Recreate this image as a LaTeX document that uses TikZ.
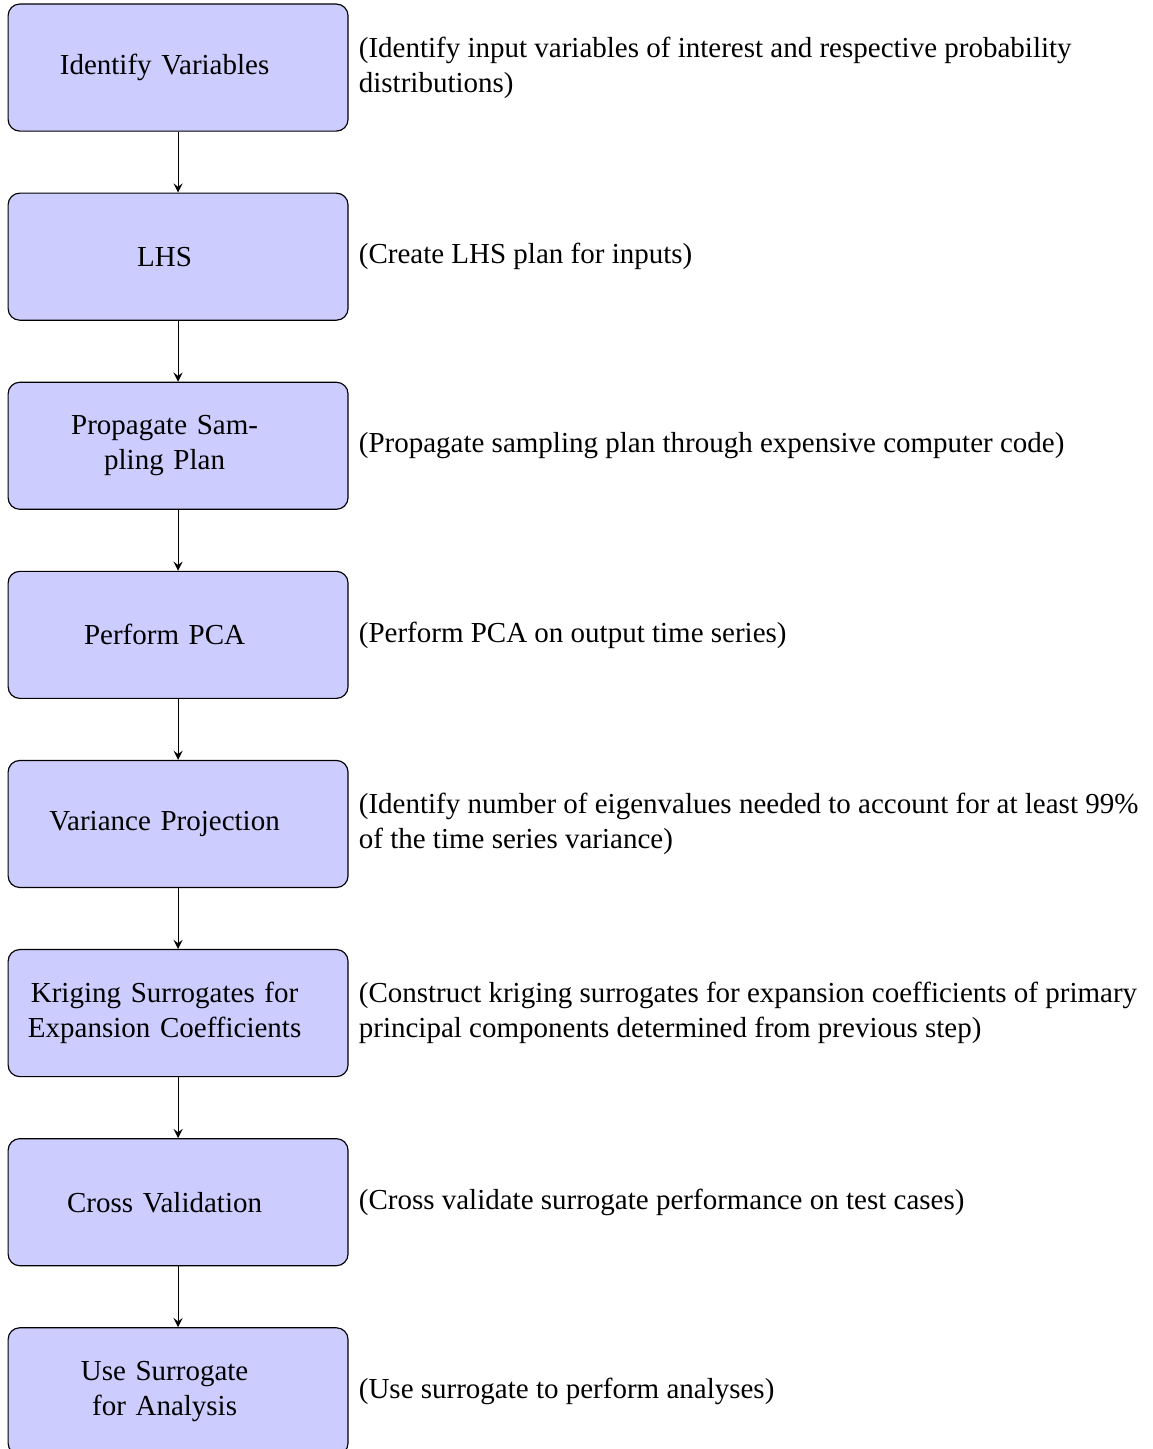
\documentclass[tikz,border=0pt]{standalone}
\usepackage{fontspec}
\setmainfont{Liberation Serif}
\usetikzlibrary{positioning}
\begin{document}
\begin{tikzpicture}[>=stealth, node distance=21.0pt,
	block/.style={rectangle, draw, fill=blue!20, rounded corners, text width=109.3pt, align=center, execute at begin node={\advance\rightskip by 9.3pt}, minimum width=117.2pt, minimum height=43.8pt},
	desc/.style={text width=270pt, align=flush left}]
			\useasboundingbox (-61.4pt,-476.3pt) rectangle (335.8pt,23.3pt);
		
			\node[block] (ident) {Identify Variables};
			\node[block, below=of ident] (lhs) {LHS};
			\node[block, below=of lhs] (prop) {Propagate Sampling Plan};
			\node[block, below=of prop] (pca) {Perform PCA};
			\node[block, below=of pca] (var) {Variance Projection};
			\node[block, below=of var] (krig) {Kriging Surrogates for Expansion Coefficients};
			\node[block, below=of krig] (cross) {Cross Validation};
			\node[block, below=of cross] (use) {Use Surrogate for Analysis};
			
			\node[desc, right=0pt of ident] (identd) {(Identify input variables of interest and respective probability distributions)};
			\node[desc, right=0pt of lhs] (lhsd) {(Create LHS plan for inputs)};
			\node[desc, right=0pt of prop] (propd) {(Propagate sampling plan through expensive computer code)};
			\node[desc, right=0pt of pca] (pcad) {(Perform PCA on output time series)};
			\node[desc, right=0pt of var] (vard) {(Identify number of eigenvalues needed to account for at least 99\% of the time series variance)};
			\node[desc, right=0pt of krig] (krigd) {(Construct kriging surrogates for expansion coefficients of primary principal components determined from previous step)};
			\node[desc, right=0pt of cross] (crossd) {(Cross validate surrogate performance on test cases)};
			\node[desc, right=0pt of use] (used) {(Use surrogate to perform analyses)};
			
			\draw[->] (ident) -- (lhs);
			\draw[->] (lhs) -- (prop);
			\draw[->] (prop) -- (pca);
			\draw[->] (pca) -- (var);
			\draw[->] (var) -- (krig);
			\draw[->] (krig) -- (cross);
			\draw[->] (cross) -- (use);
		\end{tikzpicture}
\end{document}
